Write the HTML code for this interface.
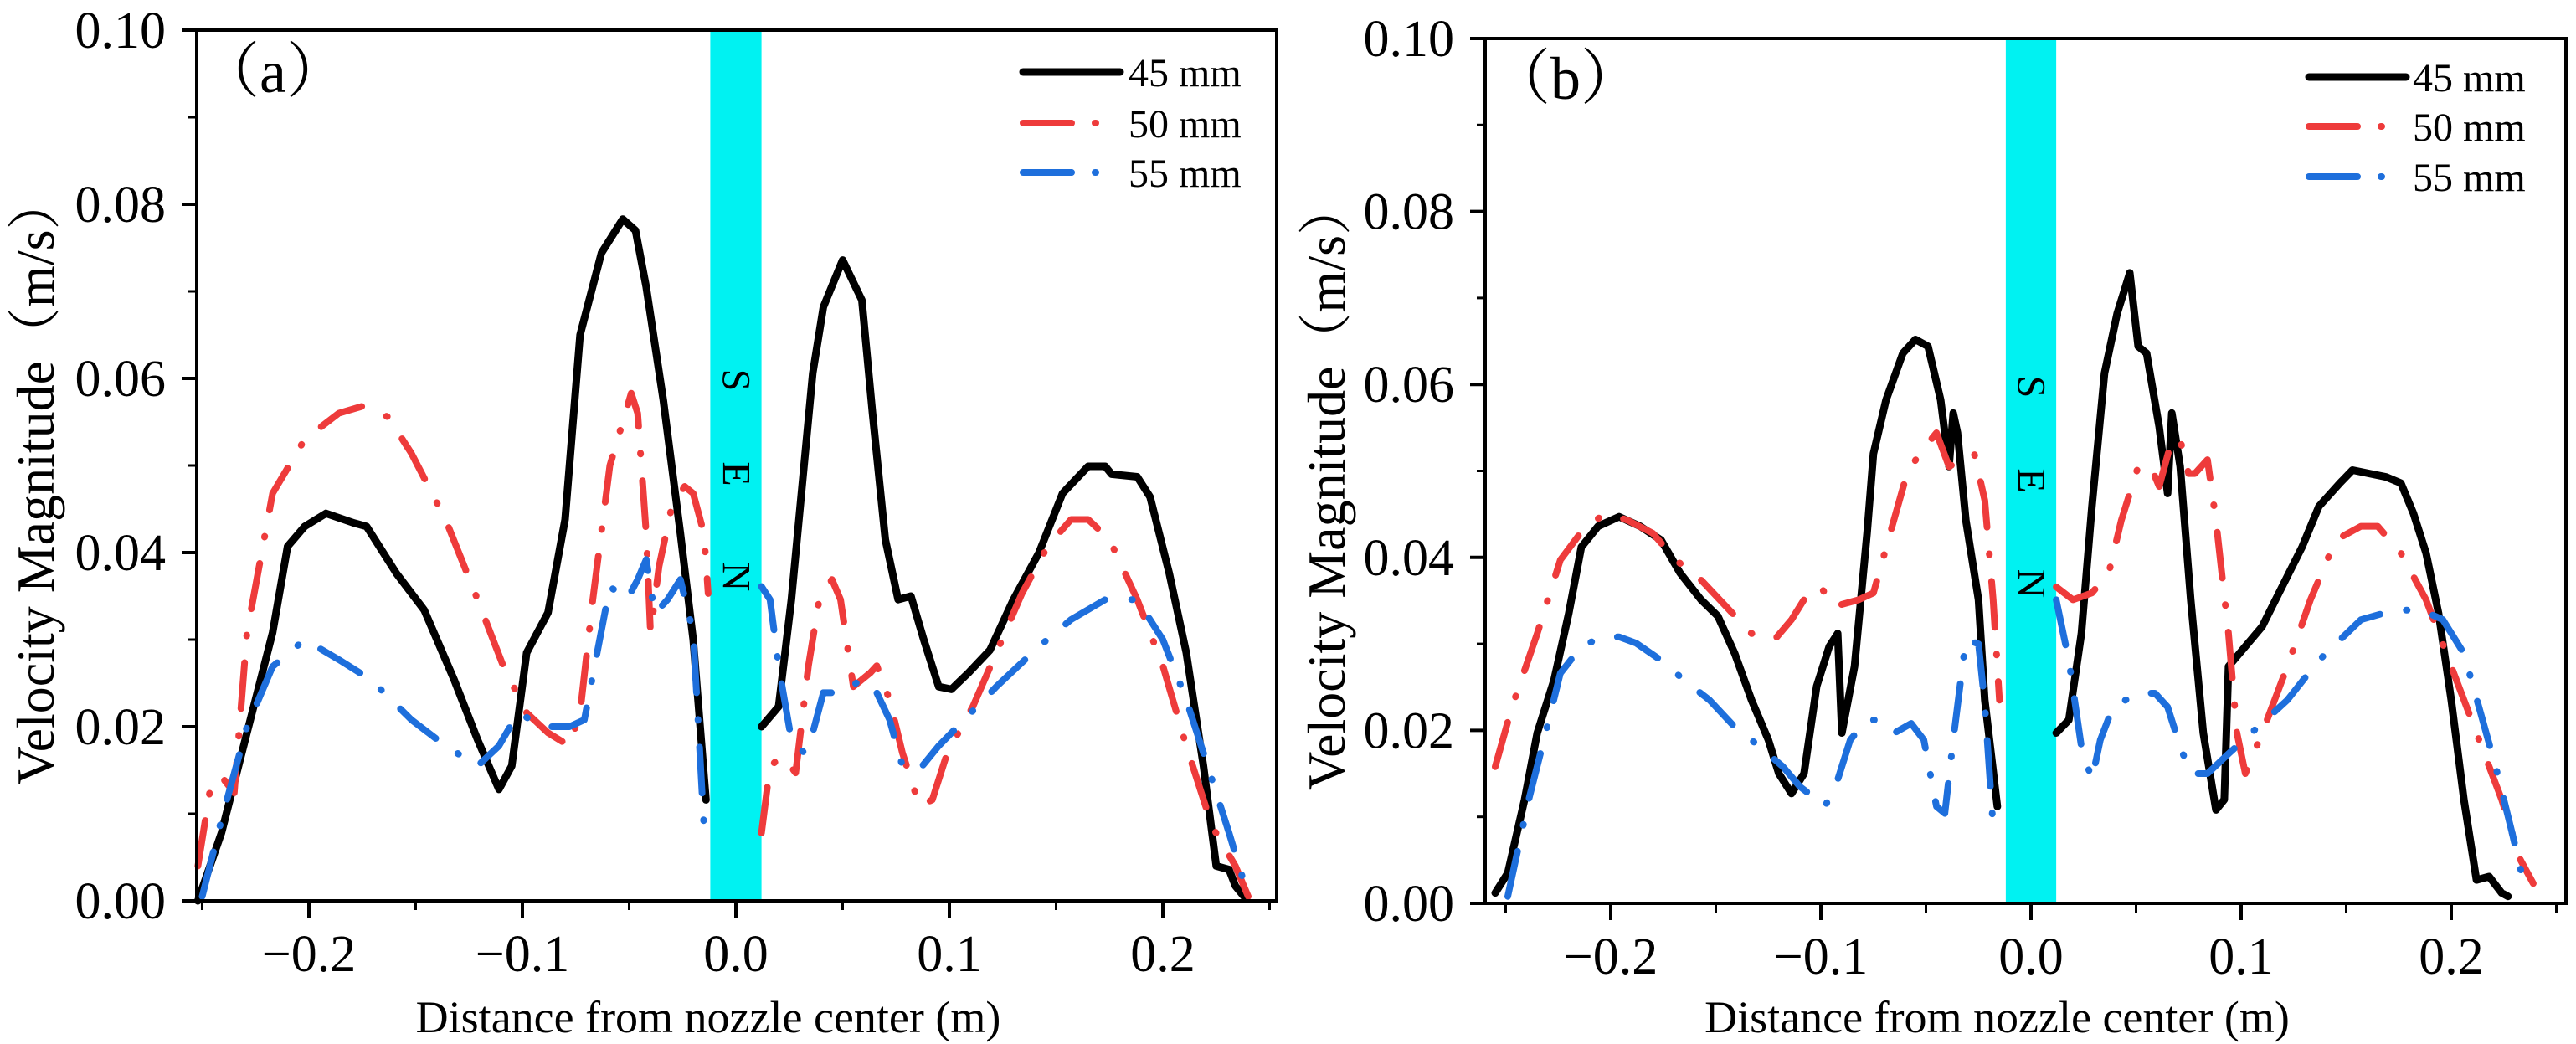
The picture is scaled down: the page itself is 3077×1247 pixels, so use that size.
<!DOCTYPE html>
<html><head><meta charset="utf-8"><style>
html,body{margin:0;padding:0;background:#fff;}
svg{display:block;}
text{font-family:"Liberation Serif","Noto Serif CJK SC",serif;fill:#000;}
</style></head><body>
<svg id="chart" width="3077" height="1247" viewBox="0 0 3077 1247" xmlns="http://www.w3.org/2000/svg"></svg>
<script>
// Panel (a)
const a45x=[-0.252,-0.241,-0.229,-0.217,-0.210,-0.202,-0.192,-0.179,-0.173,-0.159,-0.146,-0.132,-0.121,-0.111,-0.105,-0.098,-0.088,-0.080,-0.073,-0.063,-0.053,-0.047,-0.042,-0.034,-0.026,-0.020,-0.014,null,0.012,0.020,0.026,0.036,0.041,0.050,0.059,0.064,0.070,0.076,0.082,0.088,0.095,0.101,0.109,0.119,0.130,0.142,0.153,0.165,0.173,0.176,0.188,0.194,0.203,0.211,0.219,0.225,0.231,0.234,0.238];
const a45y=[0.000,0.0078,0.0193,0.0308,0.0407,0.0430,0.0445,0.0434,0.0430,0.0376,0.0334,0.0254,0.0185,0.0128,0.0155,0.0285,0.0331,0.0438,0.0650,0.0744,0.0783,0.0770,0.0705,0.0575,0.0422,0.0300,0.0116,null,0.0200,0.0223,0.0346,0.0606,0.0682,0.0736,0.0690,0.0560,0.0415,0.0346,0.0350,0.0300,0.0246,0.0243,0.0262,0.0288,0.0346,0.0400,0.0468,0.0499,0.0499,0.0490,0.0487,0.0464,0.0376,0.0285,0.0155,0.0040,0.0036,0.0017,0.0005];
const a50x=[-0.252,-0.246,-0.241,-0.235,-0.229,-0.217,-0.202,-0.186,-0.175,-0.163,-0.152,-0.136,-0.121,-0.109,-0.098,-0.088,-0.078,-0.073,-0.067,-0.059,-0.049,-0.046,-0.042,-0.040,-0.036,-0.030,-0.024,-0.020,-0.015,-0.013,null,0.012,0.016,0.022,0.028,0.034,0.039,0.045,0.049,0.055,0.063,0.066,0.072,0.078,0.086,0.092,0.099,0.111,0.122,0.134,0.146,0.157,0.165,0.175,0.188,0.200,0.211,0.223,0.234,0.240];
const a50y=[0.0040,0.0132,0.0143,0.0124,0.0308,0.0468,0.0530,0.0560,0.0568,0.0556,0.0514,0.0438,0.0346,0.0270,0.0216,0.0193,0.0178,0.0216,0.0346,0.0500,0.0583,0.0560,0.0422,0.0308,0.0384,0.0453,0.0476,0.0468,0.0422,0.0353,null,0.0078,0.0155,0.0166,0.0147,0.0270,0.0346,0.0369,0.0346,0.0246,0.0262,0.0270,0.0231,0.0170,0.0109,0.0116,0.0170,0.0223,0.0285,0.0353,0.0407,0.0438,0.0438,0.0415,0.0346,0.0270,0.0178,0.0086,0.0040,0.0005];
const a55x=[-0.250,-0.241,-0.229,-0.217,-0.202,-0.186,-0.171,-0.152,-0.136,-0.121,-0.111,-0.102,-0.090,-0.078,-0.071,-0.065,-0.059,-0.051,-0.046,-0.042,-0.038,-0.032,-0.026,-0.020,-0.015,null,0.012,0.016,0.020,0.026,0.032,0.036,0.041,0.049,0.059,0.066,0.072,0.078,0.086,0.095,0.107,0.122,0.142,0.157,0.173,0.188,0.200,0.211,0.221,0.231,0.240];
const a55y=[0.0005,0.0093,0.0200,0.0269,0.0300,0.0277,0.0254,0.0208,0.0178,0.0155,0.0178,0.0216,0.0200,0.0200,0.0208,0.0285,0.0361,0.0346,0.0369,0.0392,0.0330,0.0346,0.0369,0.0308,0.0086,null,0.0361,0.0346,0.0270,0.0185,0.0170,0.0193,0.0239,0.0239,0.0254,0.0239,0.0208,0.0155,0.0151,0.0178,0.0208,0.0246,0.0292,0.0323,0.0346,0.0346,0.0300,0.0231,0.0155,0.0078,0.0005];
// Panel (b)
const b45x=[-0.255,-0.249,-0.241,-0.235,-0.227,-0.220,-0.214,-0.206,-0.196,-0.186,-0.176,-0.167,-0.157,-0.149,-0.141,-0.133,-0.125,-0.120,-0.114,-0.108,-0.102,-0.096,-0.092,-0.090,-0.084,-0.078,-0.075,-0.069,-0.061,-0.055,-0.049,-0.043,-0.039,-0.037,-0.035,-0.031,-0.025,-0.022,-0.016,null,0.012,0.018,0.024,0.029,0.035,0.041,0.047,0.051,0.055,0.061,0.065,0.067,0.071,0.076,0.082,0.088,0.092,0.094,0.102,0.110,0.118,0.129,0.137,0.147,0.153,0.161,0.169,0.176,0.182,0.188,0.194,0.200,0.206,0.212,0.218,0.224,0.227];
const b45y=[0.0012,0.0035,0.0120,0.0197,0.0258,0.0335,0.0412,0.0436,0.0447,0.0436,0.0420,0.0382,0.0351,0.0332,0.0289,0.0235,0.0189,0.0150,0.0127,0.0150,0.0251,0.0297,0.0312,0.0197,0.0274,0.0428,0.0520,0.0582,0.0636,0.0652,0.0644,0.0582,0.0505,0.0567,0.0544,0.0443,0.0351,0.0235,0.0112,null,0.0197,0.0212,0.0312,0.0459,0.0613,0.0682,0.0729,0.0644,0.0636,0.0551,0.0474,0.0567,0.0505,0.0351,0.0197,0.0108,0.0120,0.0274,0.0297,0.0320,0.0359,0.0412,0.0459,0.0486,0.0501,0.0497,0.0493,0.0486,0.0451,0.0405,0.0335,0.0235,0.0120,0.0027,0.0031,0.0012,0.0008];
const b50x=[-0.255,-0.247,-0.235,-0.224,-0.212,-0.202,-0.192,-0.180,-0.169,-0.157,-0.145,-0.133,-0.122,-0.114,-0.106,-0.100,-0.094,-0.082,-0.075,-0.067,-0.059,-0.053,-0.045,-0.039,-0.033,-0.027,-0.022,-0.018,-0.015,null,0.012,0.020,0.029,0.037,0.043,0.051,0.057,0.061,0.067,0.071,0.075,0.078,0.084,0.088,0.094,0.098,0.102,0.110,0.122,0.133,0.145,0.157,0.165,0.176,0.188,0.200,0.212,0.224,0.233,0.239];
const b50y=[0.0158,0.0227,0.0312,0.0397,0.0436,0.0451,0.0443,0.0428,0.0397,0.0374,0.0343,0.0312,0.0305,0.0328,0.0359,0.0366,0.0343,0.0351,0.0359,0.0428,0.0497,0.0520,0.0544,0.0505,0.0513,0.0520,0.0466,0.0351,0.0235,null,0.0366,0.0351,0.0359,0.0382,0.0443,0.0505,0.0505,0.0482,0.0536,0.0536,0.0497,0.0497,0.0513,0.0443,0.0312,0.0197,0.0150,0.0197,0.0274,0.0351,0.0420,0.0436,0.0436,0.0405,0.0351,0.0274,0.0197,0.0120,0.0050,0.0023];
const b55x=[-0.249,-0.239,-0.231,-0.224,-0.214,-0.204,-0.196,-0.188,-0.176,-0.165,-0.153,-0.141,-0.129,-0.118,-0.110,-0.102,-0.098,-0.092,-0.086,-0.078,-0.073,-0.065,-0.057,-0.051,-0.045,-0.041,-0.037,-0.031,-0.025,-0.022,-0.018,null,0.012,0.018,0.024,0.029,0.033,0.039,0.045,0.051,0.059,0.065,0.071,0.076,0.084,0.094,0.108,0.122,0.137,0.157,0.173,0.186,0.196,0.206,0.214,0.222,0.229,0.235];
const b55y=[0.0008,0.0120,0.0197,0.0266,0.0297,0.0308,0.0308,0.0301,0.0281,0.0258,0.0235,0.0204,0.0181,0.0158,0.0135,0.0120,0.0112,0.0143,0.0189,0.0212,0.0212,0.0197,0.0208,0.0189,0.0112,0.0104,0.0189,0.0305,0.0300,0.0230,0.0089,null,0.0351,0.0281,0.0181,0.0143,0.0189,0.0227,0.0235,0.0243,0.0243,0.0227,0.0181,0.0150,0.0150,0.0173,0.0204,0.0235,0.0281,0.0328,0.0339,0.0339,0.0328,0.0289,0.0220,0.0150,0.0081,0.0019];
const yTicks=[0.00,0.02,0.04,0.06,0.08,0.10];
const yTickLabels=["0.00","0.02","0.04","0.06","0.08","0.10"];
const xTicks=[-0.2,-0.1,0.0,0.1,0.2];
const xTickLabels=["\u22120.2","\u22120.1","0.0","0.1","0.2"];
const xMinor=[-0.25,-0.15,-0.05,0.05,0.15,0.25];
const yMinor=[0.01,0.03,0.05,0.07,0.09];
const seriesNames=["45 mm","50 mm","55 mm"];

const NS="http://www.w3.org/2000/svg";
const svg=document.getElementById('chart');
function mk(tag,attrs,parent){const e=document.createElementNS(NS,tag);for(const k in attrs)e.setAttribute(k,attrs[k]);(parent||svg).appendChild(e);return e;}

const panels=[
 {id:'a',L:235,R:1525,T:36,B:1076,x0:879,sx:2550,label:'（a）',series:[[a45x,a45y],[a50x,a50y],[a55x,a55y]],lx:1222,ly:[86,147,206],tx:1348,labx:238,laby:110,ytx:64},
 {id:'b',L:1774,R:3065,T:46,B:1079,x0:2426,sx:2510,label:'（b）',series:[[b45x,b45y],[b50x,b50y],[b55x,b55y]],lx:2758,ly:[92,151,211],tx:2882,labx:1780,laby:118,ytx:1606}
];
const colors=['#000000','#EE3B3B','#1E6FDC'];
const widths=[9,8,8];
const dashes=[null,'55 32 1 32','55 32 1 32'];

panels.forEach(p=>{
  const g=mk('g',{});
  
  
  const X=v=>p.x0+v*p.sx;
  const Y=v=>p.B-(v/0.1)*(p.B-p.T);
  const bar=mk('rect',{x:X(-0.012),y:p.T,width:X(0.012)-X(-0.012),height:p.B-p.T,fill:'#00F2F2'},g);
  
  
  ['S','E','N'].forEach((c,i)=>{
    const yy=[454,566,689][i]+(p.id==='b'?8:0);
    const t=mk('text',{x:X(0),y:yy,'font-size':48,'text-anchor':'middle','dominant-baseline':'central',transform:`rotate(90 ${X(0)} ${yy})`},g);
    t.textContent=c;
    
    
  });
  p.series.forEach((s,si)=>{
    const [xs,ys]=s;
    let d='',pen=false;
    for(let i=0;i<xs.length;i++){
      if(xs[i]===null){pen=false;continue;}
      d+=(pen?'L':'M')+X(xs[i]).toFixed(1)+' '+Y(ys[i]).toFixed(1)+' ';pen=true;
    }
    const path=mk('path',{d:d,fill:'none',stroke:colors[si],'stroke-width':widths[si],'stroke-linejoin':'round','stroke-linecap':'round'},g);
    if(dashes[si])path.setAttribute('stroke-dasharray',dashes[si]);
    
    
  });
  const fr=mk('rect',{x:p.L,y:p.T,width:p.R-p.L,height:p.B-p.T,fill:'none',stroke:'#000','stroke-width':4},g);
  
  
  yTicks.forEach((v,i)=>{
    mk('line',{x1:p.L-18,x2:p.L,y1:Y(v),y2:Y(v),stroke:'#000','stroke-width':4},g);
    const t=mk('text',{x:p.L-37,y:Y(v)+21,'font-size':62,'text-anchor':'end'},g);
    t.textContent=yTickLabels[i];
    
    
  });
  yMinor.forEach(v=>mk('line',{x1:p.L-10,x2:p.L,y1:Y(v),y2:Y(v),stroke:'#000','stroke-width':3},g));
  xTicks.forEach((v,i)=>{
    mk('line',{x1:X(v),x2:X(v),y1:p.B,y2:p.B+20,stroke:'#000','stroke-width':4},g);
    const t=mk('text',{x:X(v),y:p.B+84,'font-size':62,'text-anchor':'middle'},g);
    t.textContent=xTickLabels[i];
    
    
  });
  xMinor.forEach(v=>{if(X(v)>p.L&&X(v)<p.R)mk('line',{x1:X(v),x2:X(v),y1:p.B,y2:p.B+11,stroke:'#000','stroke-width':3},g);});
  const xt=mk('text',{x:(p.L+p.R)/2-34,y:1233,'font-size':54,'text-anchor':'middle'},g);
  xt.textContent='Distance from nozzle center (m)';
  
  
  const yt=mk('text',{x:0,y:0,'font-size':64,'text-anchor':'middle',transform:`translate(${p.ytx} ${(p.T+p.B)/2+18}) rotate(-90)`},g);
  yt.textContent='Velocity Magnitude（m/s）';
  
  
  const pl=mk('text',{x:p.labx,y:p.laby,'font-size':72},g);
  pl.textContent=p.label;
  
  
  seriesNames.forEach((n,si)=>{
    const ln=mk('line',{x1:p.lx,x2:p.lx+116,y1:p.ly[si],y2:p.ly[si],stroke:colors[si],'stroke-width':widths[si],'stroke-linecap':'round'},g);
    if(dashes[si])ln.setAttribute('stroke-dasharray','58 28 1 40');
    
    
    const t=mk('text',{x:p.tx,y:p.ly[si]+17,'font-size':48},g);
    t.textContent=n;
    
    
  });
});
</script>
</body></html>
